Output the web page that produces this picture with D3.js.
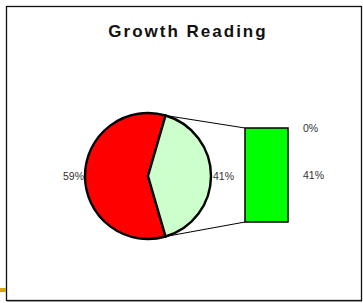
<!DOCTYPE html>
<html>
<head>
<meta charset="utf-8">
<script src="https://cdn.jsdelivr.net/npm/d3@7"></script>
<style>
  body { margin: 0; background: #fff; }
  svg { display: block; }
</style>
</head>
<body>
<div id="chart"></div>
<script>
// pie of pie: main split and the breakdown bar
var pieLabels = ["59%", "41%"];
var pieValues = [59, 41];
var pieColors = ["#ff0000", "#ccffcc"];
var barLabels = ["0%", "41%"];
var barValues = [0, 41];
var title = "Growth Reading";

var W = 363, H = 303;
var svg = d3.select("#chart").append("svg")
  .attr("width", W).attr("height", H);

// frame
svg.append("rect")
  .attr("x", 6.5).attr("y", 6.5)
  .attr("width", 355).attr("height", 294)
  .attr("fill", "#fff")
  .attr("stroke", "#111").attr("stroke-width", 1.3);
svg.append("line")
  .attr("x1", 7).attr("x2", 362).attr("y1", 301.5).attr("y2", 301.5)
  .attr("stroke", "#999").attr("stroke-width", 1);
// little slide accent at the left edge
svg.append("rect")
  .attr("x", 0).attr("y", 288).attr("width", 6).attr("height", 4)
  .attr("fill", "#d4a414");

svg.append("text")
  .attr("x", 188).attr("y", 37)
  .attr("text-anchor", "middle")
  .attr("font-family", "Arial, 'Liberation Sans', sans-serif")
  .attr("font-weight", "bold")
  .attr("font-size", 17)
  .attr("letter-spacing", 2)
  .attr("fill", "#111")
  .text(title);

var cx = 148, cy = 176, r = 63;
var total = d3.sum(pieValues);
var otherFrac = pieValues[1] / total;

// second slice sits centred on the right side
var pie = d3.pie().sort(null)
  .startAngle(Math.PI / 2 + otherFrac * Math.PI)
  .endAngle(Math.PI / 2 + otherFrac * Math.PI + 2 * Math.PI);
var arcs = pie(pieValues);
var arc = d3.arc().innerRadius(0).outerRadius(r);

var g = svg.append("g").attr("transform", "translate(" + cx + "," + cy + ")");
g.selectAll("path").data(arcs).enter().append("path")
  .attr("d", arc)
  .attr("fill", function(d, i) { return pieColors[i]; })
  .attr("stroke", "#000")
  .attr("stroke-width", 2.4)
  .attr("stroke-linejoin", "round");

var fontLbl = "Arial, 'Liberation Sans', sans-serif";
g.append("text").attr("x", -r - 1).attr("y", 4)
  .attr("text-anchor", "end").attr("font-family", fontLbl)
  .attr("font-size", 10.5).attr("fill", "#333").text(pieLabels[0]);
g.append("text").attr("x", r + 2).attr("y", 4)
  .attr("text-anchor", "start").attr("font-family", fontLbl)
  .attr("font-size", 10.5).attr("fill", "#333").text(pieLabels[1]);

// bar breakdown
var bx = 245, bw = 43;
var y = d3.scaleLinear().domain([0, d3.sum(barValues)]).range([128, 222]);
var stack = [];
var acc = 0;
barValues.forEach(function(v, i) { stack.push({ v: v, y0: acc, y1: acc + v, lbl: barLabels[i] }); acc += v; });

// connector lines from the slice edges to the bar
var a0 = arcs[1].startAngle, a1 = arcs[1].endAngle;
var p0 = [cx + r * Math.sin(a0), cy - r * Math.cos(a0)];
var p1 = [cx + r * Math.sin(a1), cy - r * Math.cos(a1)];
svg.append("line").attr("x1", p0[0]).attr("y1", p0[1])
  .attr("x2", bx).attr("y2", y(0)).attr("stroke", "#000").attr("stroke-width", 1);
svg.append("line").attr("x1", p1[0]).attr("y1", p1[1])
  .attr("x2", bx).attr("y2", y(acc)).attr("stroke", "#000").attr("stroke-width", 1);

svg.selectAll("rect.seg").data(stack).enter().append("rect")
  .attr("class", "seg")
  .attr("x", bx).attr("width", bw)
  .attr("y", function(d) { return y(d.y0); })
  .attr("height", function(d) { return y(d.y1) - y(d.y0); })
  .attr("fill", "#00ff00")
  .attr("stroke", "#000").attr("stroke-width", 1.5);

svg.selectAll("text.seg").data(stack).enter().append("text")
  .attr("class", "seg")
  .attr("x", 303)
  .attr("y", function(d) { return (y(d.y0) + y(d.y1)) / 2 + 4; })
  .attr("font-family", fontLbl).attr("font-size", 10.5).attr("fill", "#333")
  .text(function(d) { return d.lbl; });
</script>
</body>
</html>
